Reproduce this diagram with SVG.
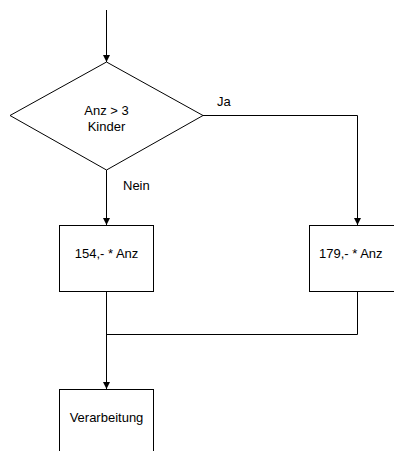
<svg xmlns="http://www.w3.org/2000/svg" width="394" height="451" viewBox="0 0 394 451">
<style>
.s{fill:#fff;stroke:#000;stroke-width:1}
.c{fill:none;stroke:#000;stroke-width:1}
text{font-family:"Liberation Sans",Arial,sans-serif;font-size:13px;fill:#000}
</style>
<defs>
<marker id="a" markerWidth="7" markerHeight="7" refX="7" refY="3.5" orient="auto" markerUnits="userSpaceOnUse" viewBox="0 0 7 7">
<path d="M0,0 L7,3.5 L0,7 Z" fill="#000"/>
</marker>
</defs>
<rect width="394" height="451" fill="#fff"/>
<g id="connectors">
<path class="c" d="M106.5,10 V62" marker-end="url(#a)"/>
<path class="c" d="M203,115.5 H357.5 V225" marker-end="url(#a)"/>
<path class="c" d="M106.5,170 V225" marker-end="url(#a)"/>
<path class="c" d="M106.5,292 V389" marker-end="url(#a)"/>
<path class="c" d="M357.5,292 V334.5 H106.5"/>
<text x="217" y="106">Ja</text>
<text x="123" y="190">Nein</text>
</g>
<g id="decision">
<polygon class="s" points="106.5,62 203,115.5 106.5,170 10,115.5"/>
<text x="106.5" y="115" text-anchor="middle">Anz &gt; 3</text>
<text x="106.5" y="131" text-anchor="middle">Kinder</text>
</g>
<g id="box154">
<rect class="s" x="59.5" y="225.5" width="94" height="66"/>
<text x="106.5" y="258" text-anchor="middle">154,- * Anz</text>
</g>
<g id="box179">
<rect class="s" x="309.5" y="225.5" width="94" height="66"/>
<text x="319" y="258">179,- * Anz</text>
</g>
<g id="verarbeitung">
<rect class="s" x="59.5" y="389.5" width="94" height="70"/>
<text x="106.5" y="422" text-anchor="middle">Verarbeitung</text>
</g>
</svg>
